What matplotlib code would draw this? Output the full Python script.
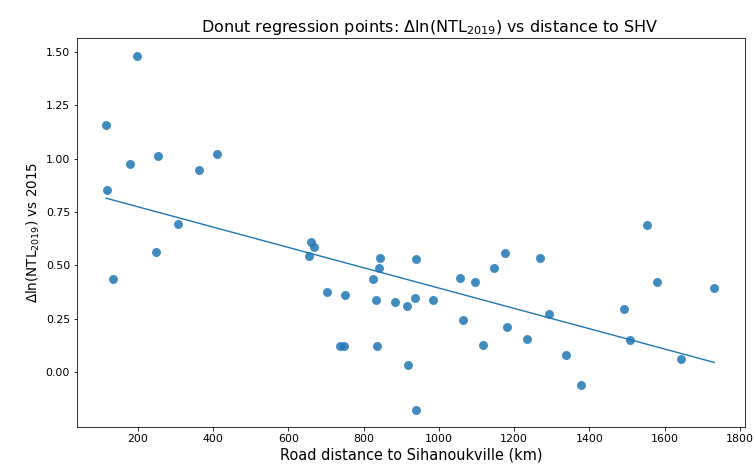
import numpy as np
import matplotlib
matplotlib.use("Agg")
import matplotlib.pyplot as plt

# road distance to SHV (km) and change in log night lights
dist_km = [115, 117, 179, 196, 252, 361, 409, 307, 247, 134,
           661, 669, 655, 843, 841, 825, 940, 703, 751, 832,
           883, 915, 937, 984, 737, 748, 835, 917, 939,
           1057, 1096, 1146, 1175, 1268, 1065, 1182, 1116, 1233, 1293,
           1338, 1379, 1492, 1509, 1579, 1643, 1732, 1552]
d_ln_ntl = [1.156, 0.852, 0.976, 1.48, 1.014, 0.947, 1.023, 0.692, 0.561, 0.437,
            0.611, 0.587, 0.544, 0.534, 0.489, 0.437, 0.530, 0.372, 0.362, 0.338,
            0.328, 0.308, 0.347, 0.339, 0.119, 0.119, 0.119, 0.031, -0.180,
            0.439, 0.420, 0.489, 0.556, 0.534, 0.245, 0.212, 0.127, 0.153, 0.273,
            0.077, -0.064, 0.294, 0.149, 0.420, 0.061, 0.395, 0.688]

x = np.array(dist_km, dtype=float)
y = np.array(d_ln_ntl)

# simple OLS line through the points
slope, intercept = np.polyfit(x, y, 1)
xs = np.sort(x)

fig = plt.figure(figsize=(10.5, 6.5), dpi=72)
ax = fig.add_axes([0.102, 0.088, 0.883, 0.831])

ax.scatter(x, y, s=80, color='C0', alpha=0.85, linewidths=0)
ax.plot(xs, intercept + slope * xs, color='C0', lw=1.4)

ax.set_title("Donut regression points: $\\Delta$ln(NTL$_{2019}$) vs distance to SHV",
             fontsize=16, x=0.528)
ax.set_xlabel("Road distance to Sihanoukville (km)", fontsize=14.5)
ax.set_ylabel("$\\Delta$ln(NTL$_{2019}$) vs 2015", fontsize=13.5)
ax.tick_params(labelsize=11)
ax.set_yticks([0.0, 0.25, 0.5, 0.75, 1.0, 1.25, 1.5])
ax.set_xlim(38, 1813)
ax.set_ylim(-0.258, 1.566)

fig.savefig("out.png", dpi=72)
